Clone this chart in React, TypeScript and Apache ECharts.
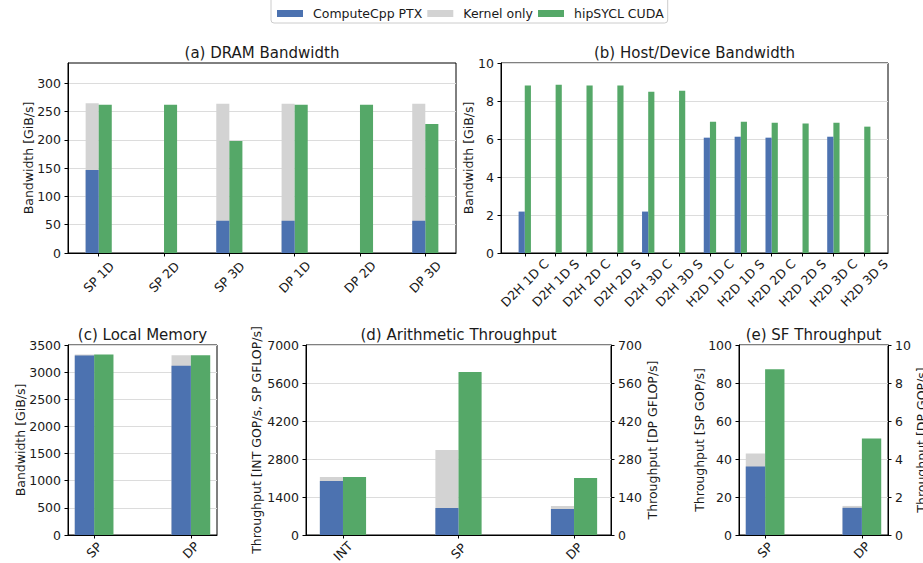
import React, { useEffect, useRef } from 'react';
import * as echarts from 'echarts';

const FONT = '"DejaVu Sans", sans-serif';
const TEXT = '#1a1a1a';
const C_PTX = '#4c72b0';
const C_KER = '#d3d3d3';
const C_HIP = '#55a868';
const seriesNames = ['ComputeCpp PTX', 'Kernel only', 'hipSYCL CUDA'];

// (a) DRAM Bandwidth [GiB/s]
const dramCats = ['SP 1D', 'SP 2D', 'SP 3D', 'DP 1D', 'DP 2D', 'DP 3D'];
const dramPtx = [147, 0, 57, 57, 0, 57];
const dramKernel = [265, 0, 264, 264, 0, 264];
const dramHip = [262, 262, 198, 262, 262, 228];
const dramTicks = [0, 50, 100, 150, 200, 250, 300];

// (b) Host/Device Bandwidth [GiB/s]
const hdCats = ['D2H 1D C', 'D2H 1D S', 'D2H 2D C', 'D2H 2D S', 'D2H 3D C', 'D2H 3D S',
  'H2D 1D C', 'H2D 1D S', 'H2D 2D C', 'H2D 2D S', 'H2D 3D C', 'H2D 3D S'];
const hdPtx = [2.18, 0, 0, 0, 2.18, 0, 6.07, 6.12, 6.07, 0, 6.12, 0];
const hdKernel: number[] = [];
const hdHip = [8.81, 8.86, 8.81, 8.81, 8.49, 8.54, 6.91, 6.91, 6.86, 6.81, 6.86, 6.65];

// (c) Local Memory [GiB/s]
const lmCats = ['SP', 'DP'];
const lmPtx = [3305, 3119];
const lmKernel = [3325, 3310];
const lmHip = [3325, 3310];

// (d) Arithmetic Throughput: INT [GOP/s], SP [GFLOP/s] left axis; DP [GFLOP/s] right axis
const arCats = ['INT', 'SP', 'DP'];
const arPtx = [1990, 995, 95.8];
const arKernel = [2140, 3130, 106.8];
const arHip = [2140, 6005, 210];
const arOnRight = [false, false, true];

// (e) SF Throughput: SP [GOP/s] left axis; DP [GOP/s] right axis
const sfCats = ['SP', 'DP'];
const sfPtx = [36.0, 1.43];
const sfKernel = [42.9, 1.53];
const sfHip = [87.3, 5.08];
const sfOnRight = [false, true];

type Panel = {
  title: string; cats: string[]; ptx: number[]; kernel: number[]; hip: number[];
  onRight?: boolean[];
  left: number; top: number; width: number; height: number;
  yMax: number; yInterval: number; yTicks?: number[]; yLabel: string; yLabelX: number;
  rMax?: number; rInterval?: number; rLabel?: string; rLabelX?: number;
  xMargin: number;
};

const panels: Panel[] = [
  { title: '(a) DRAM Bandwidth', cats: dramCats, ptx: dramPtx, kernel: dramKernel, hip: dramHip,
    left: 68, top: 63, width: 388, height: 190, yMax: 336, yInterval: 50, yTicks: dramTicks,
    yLabel: 'Bandwidth [GiB/s]', yLabelX: 28.5, xMargin: 24 },
  { title: '(b) Host/Device Bandwidth', cats: hdCats, ptx: hdPtx, kernel: hdKernel, hip: hdHip,
    left: 501, top: 63, width: 387, height: 190, yMax: 10, yInterval: 2,
    yLabel: 'Bandwidth [GiB/s]', yLabelX: 468.5, xMargin: 30 },
  { title: '(c) Local Memory', cats: lmCats, ptx: lmPtx, kernel: lmKernel, hip: lmHip,
    left: 68, top: 345, width: 149, height: 190, yMax: 3500, yInterval: 500,
    yLabel: 'Bandwidth [GiB/s]', yLabelX: 20, xMargin: 15 },
  { title: '(d) Arithmetic Throughput', cats: arCats, ptx: arPtx, kernel: arKernel, hip: arHip, onRight: arOnRight,
    left: 306, top: 345, width: 305, height: 190, yMax: 7000, yInterval: 1400,
    yLabel: 'Throughput [INT GOP/s, SP GFLOP/s]', yLabelX: 256.7,
    rMax: 700, rInterval: 140, rLabel: 'Throughput [DP GFLOP/s]', rLabelX: 652.3, xMargin: 16 },
  { title: '(e) SF Throughput', cats: sfCats, ptx: sfPtx, kernel: sfKernel, hip: sfHip, onRight: sfOnRight,
    left: 739, top: 345, width: 149, height: 190, yMax: 100, yInterval: 20,
    yLabel: 'Throughput [SP GOP/s]', yLabelX: 699.3,
    rMax: 10, rInterval: 2, rLabel: 'Throughput [DP GOP/s]', rLabelX: 921, xMargin: 15 },
];

const BAR_W = 0.2; // bar width in category units

function buildOption() {
  const grid: any[] = [];
  const xAxis: any[] = [];
  const yAxis: any[] = [];
  const series: any[] = [];
  const graphic: any[] = [];
  const labelStyle = { fontFamily: FONT, fontSize: 12.5, color: TEXT };
  const txt = (x: number, y: number, text: string, size: number, rot = 0) => ({
    type: 'text', x, y, rotation: rot,
    style: { text, fontFamily: FONT, fontSize: size, fill: TEXT, align: 'center', verticalAlign: 'middle',
      textAlign: 'center', textVerticalAlign: 'middle' },
  });

  panels.forEach((p, i) => {
    const n = p.cats.length;
    const span = n - 1 + 2 * BAR_W;
    const xmin = -BAR_W - 0.05 * span;
    const xmax = n - 1 + BAR_W + 0.05 * span;
    const bw = (p.width * BAR_W) / (xmax - xmin);
    const idx = p.cats.map((_, j) => j);

    grid.push({ left: p.left, top: p.top, width: p.width, height: p.height, show: true,
      borderColor: '#000', borderWidth: 1, backgroundColor: 'transparent', containLabel: false, outerBoundsMode: 'none' });

    const mainX = xAxis.length;
    xAxis.push({
      type: 'value', gridIndex: i, min: xmin, max: xmax,
      splitLine: { show: false },
      axisLine: { show: true, onZero: false, lineStyle: { color: '#000', width: 1 } },
      axisTick: { show: true, length: 3.5, customValues: idx, lineStyle: { color: '#000' } },
      axisLabel: { ...labelStyle, customValues: idx, formatter: (v: number) => p.cats[Math.round(v)] ?? '',
        rotate: 45, align: 'center', verticalAlign: 'middle', margin: p.xMargin, hideOverlap: false },
    });
    // overlay axis (hidden) used to draw the ComputeCpp bars over the "Kernel only" bars
    const overX = xAxis.length;
    xAxis.push({ type: 'value', gridIndex: i, min: xmin, max: xmax, show: false,
      splitLine: { show: false }, axisLine: { show: false, onZero: false }, axisTick: { show: false }, axisLabel: { show: false } });

    const leftIdx = yAxis.length;
    yAxis.push({
      type: 'value', gridIndex: i, position: 'left', min: 0, max: p.yMax, interval: p.yInterval,
      axisLine: { show: true, onZero: false, lineStyle: { color: '#000', width: 1 } },
      axisTick: { show: true, length: 3.5, lineStyle: { color: '#000' }, ...(p.yTicks ? { customValues: p.yTicks } : {}) },
      axisLabel: { ...labelStyle, margin: 7, formatter: (v: number) => String(v), ...(p.yTicks ? { customValues: p.yTicks } : {}) },
      splitLine: { show: true, lineStyle: { color: '#dcdcdc', width: 1 } },
    });
    if (p.rMax) {
      yAxis.push({
        type: 'value', gridIndex: i, position: 'right', min: 0, max: p.rMax, interval: p.rInterval,
        axisLine: { show: true, onZero: false, lineStyle: { color: '#000', width: 1 } },
        axisTick: { show: true, length: 3.5, lineStyle: { color: '#000' } },
        axisLabel: { ...labelStyle, margin: 7, formatter: (v: number) => String(v) },
        splitLine: { show: false },
      });
    }
    const ratio = p.rMax ? p.yMax / p.rMax : 1;
    const sc = (v: number, j: number) => (p.onRight && p.onRight[j] ? v * ratio : v);

    const common = { type: 'bar', yAxisIndex: leftIdx, barWidth: bw, barGap: '0%', silent: true };
    // main axis: column 1 = Kernel only (full height), column 2 = hipSYCL
    if (p.kernel.length) {
      series.push({ ...common, xAxisIndex: mainX, name: seriesNames[1], stack: 'L' + i, itemStyle: { color: C_KER },
        data: p.kernel.map((v, j) => [j, sc(v, j)]) });
    } else {
      series.push({ ...common, xAxisIndex: mainX, stack: 'L' + i, data: [] });
    }
    series.push({ ...common, xAxisIndex: mainX, name: seriesNames[2], stack: 'R' + i, itemStyle: { color: C_HIP },
      data: p.hip.map((v, j) => [j, sc(v, j)]) });
    // overlay axis: column 1 = ComputeCpp PTX, column 2 = empty placeholder
    series.push({ ...common, xAxisIndex: overX, name: seriesNames[0], stack: 'L' + i, itemStyle: { color: C_PTX },
      data: p.ptx.map((v, j) => [j, sc(v, j)]) });
    series.push({ ...common, xAxisIndex: overX, stack: 'R' + i, data: [] });

    const cy = p.top + p.height / 2;
    graphic.push(txt(p.left + p.width / 2, p.top - 10.5, p.title, 15));
    graphic.push(txt(p.yLabelX, cy, p.yLabel, 12.5, Math.PI / 2));
    if (p.rLabel && p.rLabelX) graphic.push(txt(p.rLabelX, cy, p.rLabel, 12.5, Math.PI / 2));
  });

  return {
    animation: false,
    backgroundColor: '#fff',
    textStyle: { fontFamily: FONT },
    color: [C_PTX, C_KER, C_HIP],
    legend: {
      data: seriesNames, left: 271, top: -6, icon: 'rect', itemWidth: 26, itemHeight: 7, itemGap: 5,
      padding: [13, 4, 3, 6], borderColor: '#cccccc', borderWidth: 1, borderRadius: 3,
      selectedMode: false,
      textStyle: { fontFamily: FONT, fontSize: 12.5, color: TEXT, padding: [0, 0, 0, 5] },
    },
    grid, xAxis, yAxis, series, graphic,
  };
}

export default function App() {
  const ref = useRef<HTMLDivElement>(null);
  useEffect(() => {
    if (!ref.current) return;
    const chart = echarts.init(ref.current, undefined, { renderer: 'svg' });
    chart.setOption(buildOption() as any);
    return () => chart.dispose();
  }, []);
  return <div ref={ref} style={{ position: 'fixed', left: 0, top: 0, width: 923, height: 563, background: '#fff' }} />;
}
